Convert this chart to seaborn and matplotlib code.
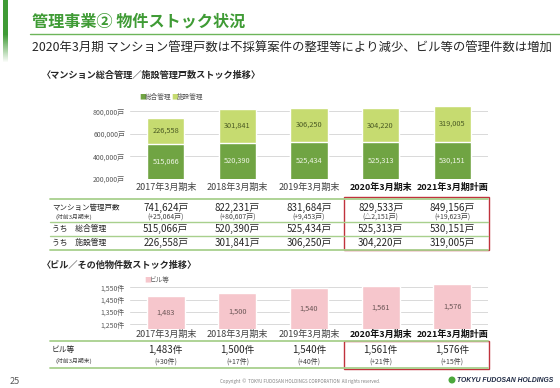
import numpy as np
import pandas as pd
import matplotlib
matplotlib.use('Agg')
import matplotlib.pyplot as plt
import matplotlib.transforms as mtransforms
from matplotlib.patches import Rectangle, Circle
from matplotlib.lines import Line2D
import seaborn as sns

# データ
periods = ['2017年3月期末', '2018年3月期末', '2019年3月期末', '2020年3月期末', '2021年3月期計画']
sogo = [515066, 520390, 525434, 525313, 530151]
shisetsu = [226558, 301841, 306250, 304220, 319005]
mansion_diff = [25064, 80607, 9453, -2151, 19623]
biru = [1483, 1500, 1540, 1561, 1576]
biru_diff = [30, 17, 40, 21, 15]
ticks_top = [200000, 400000, 600000, 800000]
ticks_bottom = [1250, 1350, 1450, 1550]

c_dark = '#70A443'
c_light = '#C6DB70'
c_pink = '#F6C6CC'
c_green = '#3F9B35'
c_line = '#A8D08D'
c_red = '#C0323C'
c_text = '#404040'

sns.set_theme(style='white')
plt.rcParams['font.family'] = ['Noto Sans CJK JP', 'DejaVu Sans']

W, H = 560, 388
fig = plt.figure(figsize=(W / 100, H / 100), dpi=100)


def fx(x):
    return x / W


def fy(y):
    return 1 - y / H


def put(x, y, s, **kw):
    kw.setdefault('color', c_text)
    kw.setdefault('va', 'center')
    return fig.text(fx(x), fy(y), s, **kw)


def fmt_diff(v, unit):
    return f'(+{v:,}{unit})' if v >= 0 else f'(△{-v:,}{unit})'


# 左の緑帯
ax_strip = fig.add_axes([fx(3), fy(62), fx(5), 62 / H])
grad = np.zeros((62, 1, 4))
grad[:, :, :3] = matplotlib.colors.to_rgb(c_green)
grad[:, 0, 3] = np.clip((62 - np.arange(62)) / 28, 0, 1)
ax_strip.imshow(grad, aspect='auto')
ax_strip.axis('off')

# タイトル
put(32, 22, '管理事業② 物件ストック状況', fontsize=11.6, fontweight='bold', color=c_green)
fig.add_artist(Line2D([fx(30), fx(560)], [fy(33.5)] * 2, color='#6DB55A', lw=1))
put(32, 48, '2020年3月期 マンション管理戸数は不採算案件の整理等により減少、ビル等の管理件数は増加',
    fontsize=8.9, color='#262626')
put(42, 75, '〈マンション総合管理／施設管理戸数ストック推移〉', fontsize=6.6, fontweight='bold', color='#262626')

# 上段グラフ
df_top = pd.DataFrame({'period': periods, 'sogo': sogo, 'shisetsu': shisetsu})
df_top['total'] = df_top['sogo'] + df_top['shisetsu']

ax1 = fig.add_axes([fx(130), fy(179), fx(488) - fx(130), (179 - 103.6) / H])
sns.barplot(data=df_top, x='period', y='total', color=c_light, width=0.52, saturation=1, ax=ax1)
sns.barplot(data=df_top, x='period', y='sogo', color=c_dark, width=0.52, saturation=1, ax=ax1)
ax1.set_xlim(-0.5, 4.5)
ax1.set_ylim(200000, 870000)
ax1.set_yticks(ticks_top)
ax1.set_yticklabels([f'{v:,}戸' for v in ticks_top], fontsize=5, color='#595959')
ax1.yaxis.grid(True, color='#D9D9D9', lw=0.7)
ax1.set_axisbelow(True)
sns.despine(ax=ax1, left=True, bottom=True)
ax1.tick_params(axis='y', length=0, pad=3.5)
ax1.tick_params(axis='x', length=0, pad=3, labelsize=6.5, labelcolor='#404040')
ax1.set_xlabel('')
ax1.set_ylabel('')
for lbl in ax1.get_xticklabels()[3:]:
    lbl.set_fontweight('bold')
    lbl.set_color('#111111')

for i, row in df_top.iterrows():
    ax1.text(i, (200000 + row['sogo']) / 2, f"{row['sogo']:,}", ha='center', va='center',
             fontsize=5.3, color='#EEF4E4')
    ax1.text(i, row['sogo'] + row['shisetsu'] / 2, f"{row['shisetsu']:,}", ha='center', va='center',
             fontsize=5.3, color='#4B5B24')

# 凡例
put(139, 97, '■', fontsize=5, color=c_dark)
put(145, 97, '総合管理', fontsize=4.8, color='#595959')
put(171, 97, '■', fontsize=5, color=c_light)
put(177, 97, '施設管理', fontsize=4.8, color='#595959')

# 上段表
tr1 = mtransforms.blended_transform_factory(ax1.transData, fig.transFigure)
for y, lw in [(199, 1.3), (222, 1), (236, 1), (250, 1.3)]:
    fig.add_artist(Line2D([fx(50), fx(488)], [fy(y)] * 2, color=c_line, lw=lw))

put(52, 208, 'マンション管理戸数', fontsize=5.4, color='#262626')
put(55, 216.5, '(対前3月期末)', fontsize=4.2, color='#404040')
put(52, 229, 'うち　総合管理', fontsize=5.6, color='#262626')
put(52, 242.5, 'うち　施設管理', fontsize=5.6, color='#262626')
for i in range(len(periods)):
    total = sogo[i] + shisetsu[i]
    fig.text(i, fy(208), f'{total:,}戸', transform=tr1, ha='center', va='center',
             fontsize=7, color='#262626')
    fig.text(i, fy(216.5), fmt_diff(mansion_diff[i], '戸'), transform=tr1, ha='center', va='center',
             fontsize=5, color='#404040')
    fig.text(i, fy(229), f'{sogo[i]:,}戸', transform=tr1, ha='center', va='center',
             fontsize=7, color='#262626')
    fig.text(i, fy(242.5), f'{shisetsu[i]:,}戸', transform=tr1, ha='center', va='center',
             fontsize=7, color='#262626')

fig.add_artist(Rectangle((fx(344), fy(250)), fx(489) - fx(344), (250 - 197) / H,
                         fill=False, ec=c_red, lw=1))

# 下段
put(42, 265, '〈ビル／その他物件数ストック推移〉', fontsize=6.6, fontweight='bold', color='#262626')

df_bot = pd.DataFrame({'period': periods, 'biru': biru})
ax2 = fig.add_axes([fx(130), fy(329.4), fx(488) - fx(130), (329.4 - 281) / H])
sns.barplot(data=df_bot, x='period', y='biru', color=c_pink, width=0.53, saturation=1, ax=ax2)
ax2.set_xlim(-0.5, 4.5)
ax2.set_ylim(1210, 1600)
ax2.set_yticks(ticks_bottom)
ax2.set_yticklabels([f'{v:,}件' for v in ticks_bottom], fontsize=5, color='#595959')
ax2.yaxis.grid(True, color='#D9D9D9', lw=0.7)
ax2.set_axisbelow(True)
sns.despine(ax=ax2, left=True, bottom=True)
ax2.tick_params(axis='y', length=0, pad=3.5)
ax2.tick_params(axis='x', length=0, pad=0.5, labelsize=6.5, labelcolor='#404040')
ax2.set_xlabel('')
ax2.set_ylabel('')
for lbl in ax2.get_xticklabels()[3:]:
    lbl.set_fontweight('bold')
    lbl.set_color('#111111')
for i, v in enumerate(biru):
    ax2.text(i, (1210 + v) / 2, f'{v:,}', ha='center', va='center', fontsize=5.3, color='#6B5656')

put(144, 280, '■', fontsize=5, color=c_pink)
put(150, 280, 'ビル等', fontsize=4.8, color='#595959')

tr2 = mtransforms.blended_transform_factory(ax2.transData, fig.transFigure)
for y, lw in [(341, 1.3), (368, 1.3)]:
    fig.add_artist(Line2D([fx(50), fx(488)], [fy(y)] * 2, color=c_line, lw=lw))
put(52, 350, 'ビル等', fontsize=5.6, color='#262626')
put(55, 361, '(対前3月期末)', fontsize=4.2, color='#404040')
for i in range(len(periods)):
    fig.text(i, fy(350), f'{biru[i]:,}件', transform=tr2, ha='center', va='center',
             fontsize=7, color='#262626')
    fig.text(i, fy(361.5), fmt_diff(biru_diff[i], '件'), transform=tr2, ha='center', va='center',
             fontsize=5, color='#404040')
fig.add_artist(Rectangle((fx(344), fy(369)), fx(489) - fx(344), (369 - 341) / H,
                         fill=False, ec=c_red, lw=1))

# フッター
put(10, 381, '25', fontsize=6.5, color='#595959')
put(300, 381, 'Copyright  ©  TOKYU FUDOSAN HOLDINGS CORPORATION  All rights reserved.',
    fontsize=3.2, color='#7F7F7F', ha='center')
fig.add_artist(Circle((4.52, (H - 380) / 100), 0.028, color='#4CA83C',
                      transform=fig.dpi_scale_trans))
put(553, 380, 'TOKYU FUDOSAN HOLDINGS', fontsize=4.9, fontweight='bold', fontstyle='italic',
    color='#1F2A44', ha='right', family=['Liberation Sans'])

fig.savefig('out.png', dpi=100)
